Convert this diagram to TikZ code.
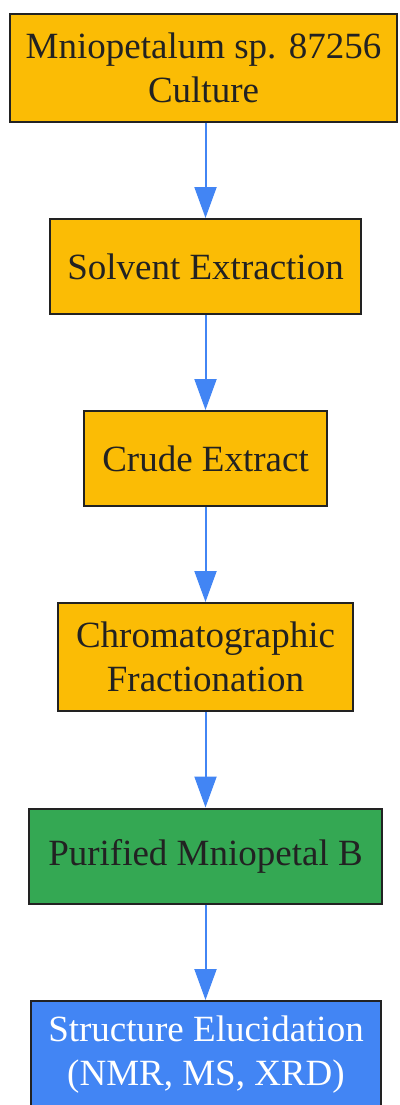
\documentclass[tikz,border=0pt]{standalone}
\usepackage{fontspec}
\setmainfont{Liberation Serif}
\usetikzlibrary{arrows.meta}
\definecolor{stage_yellow}{HTML}{FBBC05}
\definecolor{stage_green}{HTML}{34A853}
\definecolor{stage_blue}{HTML}{4285F4}
\definecolor{edge_blue}{HTML}{4285F4}
\definecolor{border_gray}{HTML}{222222}

\begin{document}
\begin{tikzpicture}[->,>={Triangle[length=31pt,width=22pt]},x=1pt,y=-1pt]
    \tikzstyle{stage}=[draw=border_gray, line width=2pt, rectangle, fill=stage_yellow, text=border_gray, align=center, inner sep=0pt, font=\fontsize{37}{44}\selectfont]
    \tikzstyle{flow}=[edge_blue, line width=2pt]
    \useasboundingbox (0,0) rectangle (399,1105);

    \node[stage, minimum width=387pt, minimum height=108pt] (culture)    at (203.5,68)  {Mniopetalum sp. 87256\\Culture};
    \node[stage, minimum width=311pt, minimum height=95pt]  (extraction) at (205.5,266.5) {Solvent Extraction};
    \node[stage, minimum width=243pt, minimum height=95pt]  (crude)      at (205.5,458.5) {Crude Extract};
    \node[stage, minimum width=295pt, minimum height=108pt] (fraction)   at (205.5,657)  {Chromatographic\\Fractionation};
    \node[stage, fill=stage_green, minimum width=353pt, minimum height=95pt] (pure) at (205.5,856) {Purified Mniopetal B};
    \node[stage, fill=stage_blue, text=white, minimum width=350pt, minimum height=108pt] (structure) at (206,1055) {Structure Elucidation\\(NMR, MS, XRD)};
    \path
     (culture.south -| extraction.north) edge[flow] (extraction)
     (extraction) edge[flow] (crude)
     (crude)      edge[flow] (fraction)
     (fraction)   edge[flow] (pure)
     (pure)       edge[flow] (structure.north -| pure.south)
     ;
\end{tikzpicture}
\end{document}
